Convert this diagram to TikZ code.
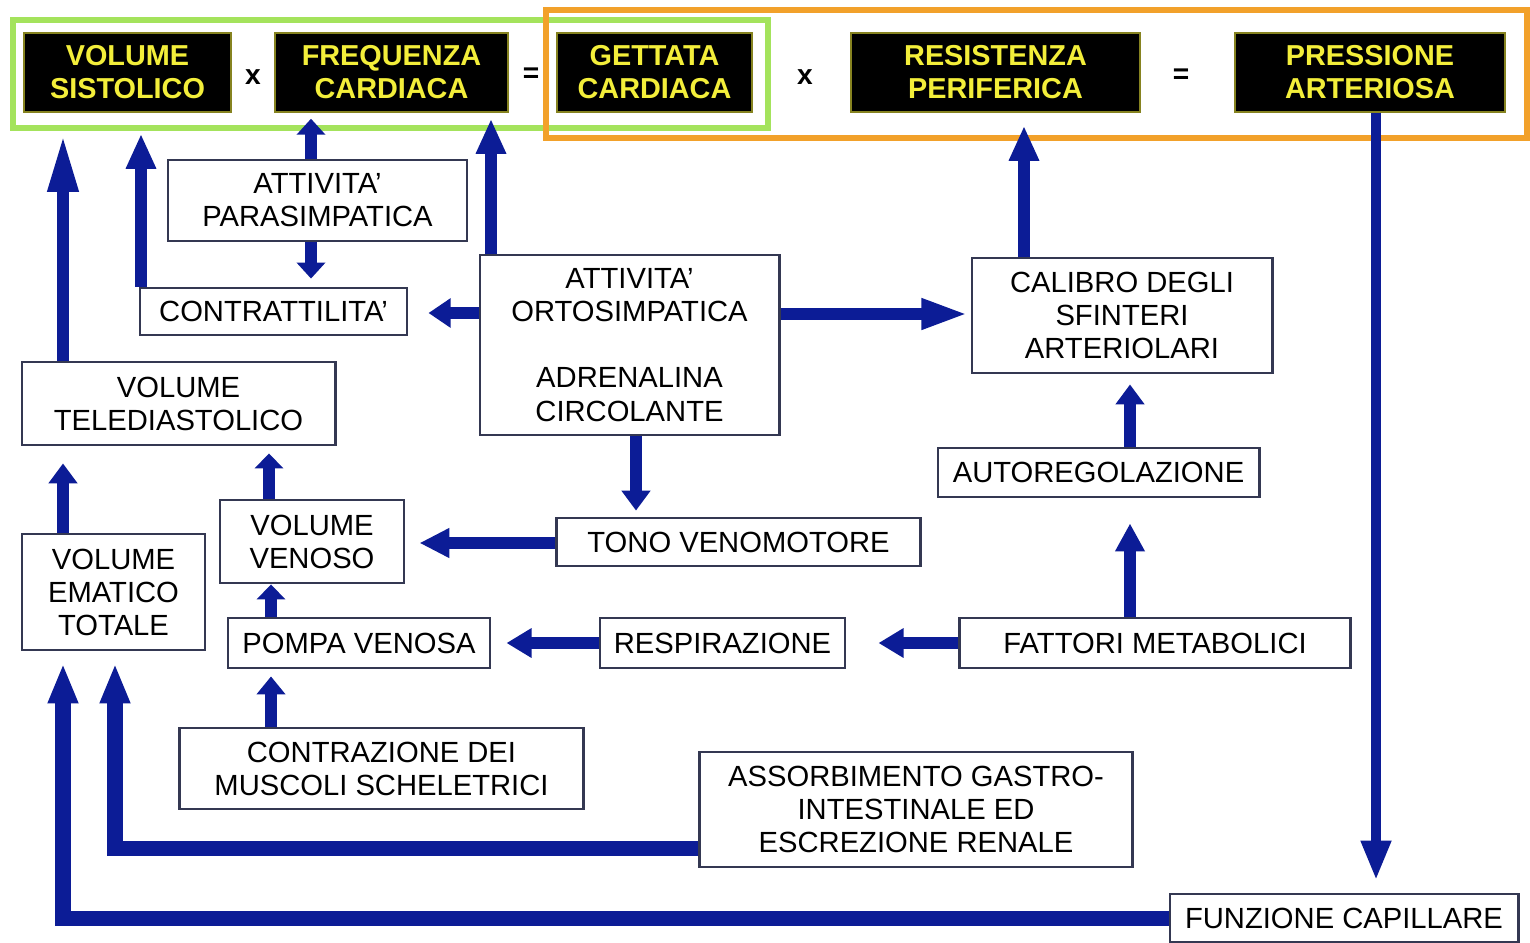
\documentclass[tikz,border=0pt]{standalone}
\usepackage{fontspec}
\setmainfont{Liberation Sans}
\definecolor{navyarrow}{HTML}{0C1C96}
\definecolor{framegreen}{HTML}{A4E35C}
\definecolor{frameorange}{HTML}{F2A12A}
\definecolor{lemon}{HTML}{F3EE3A}
\definecolor{boxline}{HTML}{343852}
\usetikzlibrary{arrows.meta,calc}

\begin{document}
\begin{tikzpicture}[x=0.01cm,y=-0.01cm,
  box/.style={draw=boxline,line width=0.8pt,fill=white,align=center,inner sep=0pt,
    font=\fontsize{8.3}{9.4}\selectfont},
  blackbox/.style={draw=lemon!55!black,line width=0.4pt,fill=black,text=lemon,align=center,
    inner sep=0pt,minimum height=0.79cm,font=\bfseries\fontsize{8.2}{9.4}\selectfont},
  op/.style={inner sep=0pt,font=\bfseries\fontsize{8}{9}\selectfont},
  flow/.style={navyarrow,line width=0.12cm},
  flowtip/.style={-{Triangle[length=#1,width=0.28cm]}}]
  \fill[white] (0,0) rectangle (1530,942);
  \useasboundingbox (0,0) rectangle (1530,942);
  % the two products
  \draw[framegreen,line width=0.06cm] (13,20) rectangle (768,128);
  \draw[frameorange,line width=0.065cm] (546,10) rectangle (1527,138);
  \node[blackbox,minimum width=2.07cm] (vs) at (127.5,72.5) {VOLUME\\SISTOLICO};
  \node[op] (times1) at (253,77) {x};
  \node[blackbox,minimum width=2.33cm] (fc) at (391.5,72.5) {FREQUENZA\\CARDIACA};
  \node[op] (eq1) at (531,75) {=};
  \node[blackbox,minimum width=1.95cm] (gc) at (654.5,72.5) {GETTATA\\CARDIACA};
  \node[op] (times2) at (805,77) {x};
  \node[blackbox,minimum width=2.89cm] (rp) at (995.5,72.5) {RESISTENZA\\PERIFERICA};
  \node[op] (eq2) at (1181,76) {=};
  \node[blackbox,minimum width=2.70cm] (pa) at (1370,72.5) {PRESSIONE\\ARTERIOSA};
  % nervous control
  \node[box,minimum width=2.99cm,minimum height=0.81cm] (para) at (317.5,200.5) {ATTIVITA'\\PARASIMPATICA};
  \node[box,minimum width=2.67cm,minimum height=0.47cm] (contr) at (273.5,311.5) {CONTRATTILITA'};
  \node[box,minimum width=2.99cm,minimum height=1.80cm] (orto) at (629.5,345) {ATTIVITA'\\ORTOSIMPATICA\\[9.4pt]ADRENALINA\\CIRCOLANTE};
  \node[box,minimum width=3.00cm,minimum height=1.15cm] (calibro) at (1122,315.5) {CALIBRO DEGLI\\SFINTERI\\ARTERIOLARI};
  \node[box,minimum width=3.13cm,minimum height=0.83cm] (vtd) at (178.5,403.5) {VOLUME\\TELEDIASTOLICO};
  \node[box,minimum width=3.21cm,minimum height=0.49cm] (auto) at (1098.5,472.5) {AUTOREGOLAZIONE};
  \node[box,minimum width=3.63cm,minimum height=0.48cm] (tono) at (738.5,542) {TONO VENOMOTORE};
  \node[box,minimum width=1.84cm,minimum height=0.83cm] (vven) at (312,541.5) {VOLUME\\VENOSO};
  \node[box,minimum width=1.83cm,minimum height=1.16cm] (vet) at (113.5,592) {VOLUME\\EMATICO\\TOTALE};
  \node[box,minimum width=2.62cm,minimum height=0.50cm] (pompa) at (359,643) {POMPA VENOSA};
  \node[box,minimum width=2.45cm,minimum height=0.50cm] (resp) at (722.5,643) {RESPIRAZIONE};
  \node[box,minimum width=3.90cm,minimum height=0.50cm] (fm) at (1155,643) {FATTORI METABOLICI};
  \node[box,minimum width=4.03cm,minimum height=0.81cm] (contraz) at (381.5,768.5) {CONTRAZIONE DEI\\MUSCOLI SCHELETRICI};
  \node[box,minimum width=4.32cm,minimum height=1.15cm] (assorb) at (916,809.5) {ASSORBIMENTO GASTRO-\\INTESTINALE ED\\ESCREZIONE RENALE};
  \node[box,minimum width=3.48cm,minimum height=0.48cm] (fcap) at (1344,918) {FUNZIONE CAPILLARE};
  % arrows up to the top row
  \draw[flow,flowtip=0.58cm,shorten >=0.21cm] (63,0 |- vtd.north) -- (63,0 |- vs.south);
  \draw[flow,flowtip=0.35cm,shorten >=0.21cm] (141,0 |- contr.north) -- (141,0 |- vs.south);
  \draw[flow,flowtip=0.16cm,shorten >=0.06cm] (311,0 |- para.north) -- (311,0 |- fc.south);
  \draw[flow,flowtip=0.16cm,shorten >=0.08cm] (311,0 |- para.south) -- (311,0 |- contr.north);
  \draw[flow,flowtip=0.35cm,shorten >=0.06cm] (491,0 |- orto.north) -- (491,0 |- fc.south);
  \draw[flow,flowtip=0.35cm,shorten >=0.13cm] (1024,0 |- calibro.north) -- (1024,0 |- rp.south);
  \draw[flow,line width=0.10cm,flowtip=0.40cm,shorten >=0.12cm] (1376,0 |- pa.south) -- (1376,0 |- fcap.north);
  % sympathetic outputs
  \draw[flow,flowtip=0.22cm,shorten >=0.20cm] (orto.west |- 0,313) -- (contr.east |- 0,313);
  \draw[flow,flowtip=0.47cm,shorten >=0.02cm] (orto.east |- 0,314) -- (calibro.west |- 0,314);
  \draw[flow,flowtip=0.20cm,shorten >=0.06cm] (636,0 |- orto.south) -- (636,0 |- tono.north);
  % local and venous control
  \draw[flow,flowtip=0.20cm,shorten >=0.10cm] (1130,0 |- auto.north) -- (1130,0 |- calibro.south);
  \draw[flow,flowtip=0.28cm,shorten >=0.25cm] (1130,0 |- fm.north) -- (1130,0 |- auto.south);
  \draw[flow,flowtip=0.25cm,shorten >=0.32cm] (fm.west) -- (resp.east);
  \draw[flow,flowtip=0.25cm,shorten >=0.15cm] (resp.west) -- (pompa.east);
  \draw[flow,flowtip=0.30cm,shorten >=0.14cm] (tono.west |- 0,543) -- (vven.east |- 0,543);
  \draw[flow,flowtip=0.15cm] (271,0 |- pompa.north) -- (271,0 |- vven.south);
  \draw[flow,flowtip=0.15cm,shorten >=0.07cm] (269,0 |- vven.north) -- (269,0 |- vtd.south);
  \draw[flow,flowtip=0.20cm,shorten >=0.17cm] (63,0 |- vet.north) -- (63,0 |- vtd.south);
  \draw[flow,flowtip=0.18cm,shorten >=0.07cm] (271,0 |- contraz.north) -- (271,0 |- pompa.south);
  % back to the blood volume
  \draw[flow,line width=0.15cm,flowtip=0.40cm,shorten >=0.12cm] (assorb.west |- 0,848) -| (115,0 |- vet.south);
  \draw[flow,line width=0.15cm,flowtip=0.40cm,shorten >=0.12cm] (fcap.west) -| (63,0 |- vet.south);
\end{tikzpicture}
\end{document}
